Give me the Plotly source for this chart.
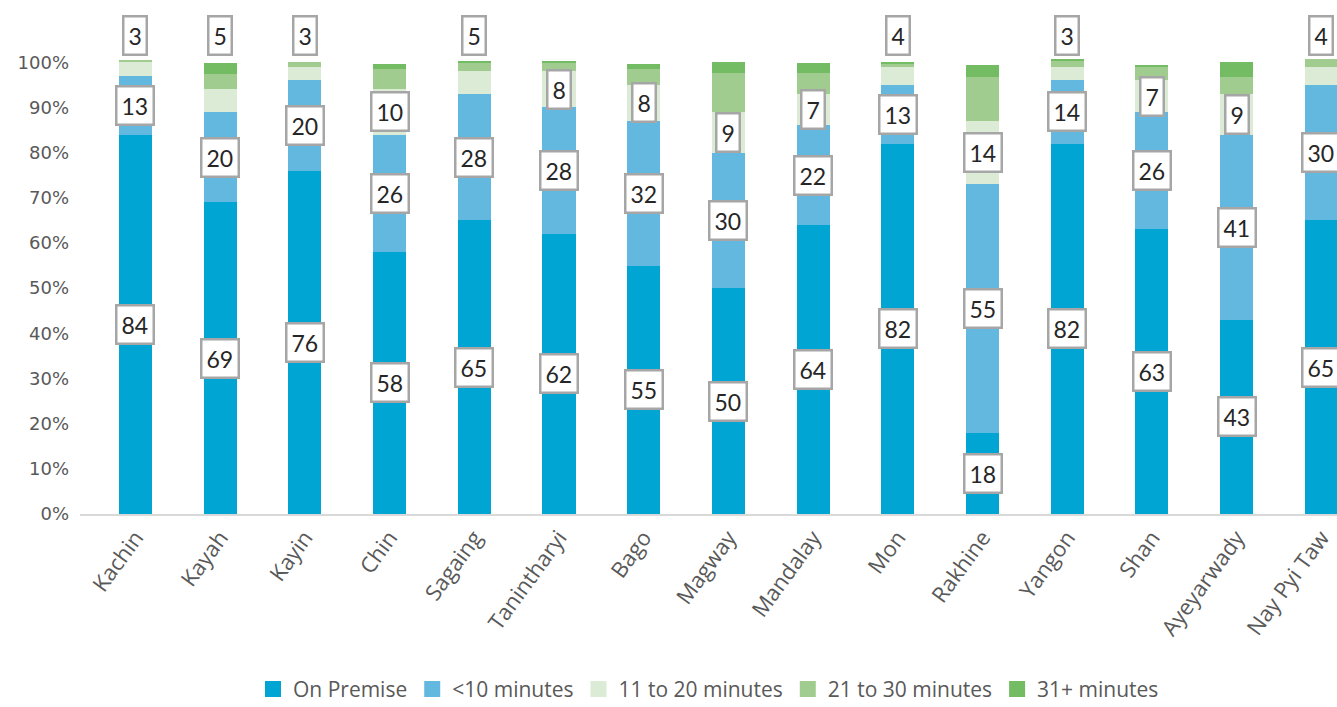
import plotly.graph_objects as go

regions = ["Kachin", "Kayah", "Kayin", "Chin", "Sagaing", "Tanintharyi", "Bago",
           "Magway", "Mandalay", "Mon", "Rakhine", "Yangon", "Shan", "Ayeyarwady", "Nay Pyi Taw"]

on_premise = [84, 69, 76, 58, 65, 62, 55, 50, 64, 82, 18, 82, 63, 43, 65]
under_10 = [13, 20, 20, 26, 28, 28, 32, 30, 22, 13, 55, 14, 26, 41, 30]
m11_20 = [3, 5, 3, 10, 5, 8, 8, 9, 7, 4, 14, 3, 7, 9, 4]
m21_30 = [0.5, 3.5, 1.0, 4.5, 1.8, 1.8, 3.5, 8.7, 4.6, 0.7, 9.8, 1.3, 2.9, 3.7, 1.7]
m31_plus = [0.0, 2.3, 0.0, 1.0, 0.5, 0.5, 1.1, 2.3, 2.3, 0.4, 2.5, 0.5, 0.5, 3.3, 0.0]

series = [
    ("On Premise", on_premise, "#00A5D3"),
    ("<10 minutes", under_10, "#63B8DF"),
    ("11 to 20 minutes", m11_20, "#DCEBD6"),
    ("21 to 30 minutes", m21_30, "#A0CD8F"),
    ("31+ minutes", m31_plus, "#74BC64"),
]

y_ticks = list(range(0, 101, 10))
y_tick_text = [f"{v}%" for v in y_ticks]

fig = go.Figure()
for name, vals, col in series:
    fig.add_trace(go.Bar(
        x=regions, y=vals, name=name,
        marker=dict(color=col, line=dict(width=0)),
        hoverinfo="skip", showlegend=False,
    ))
# legend entries with larger square symbols
for name, vals, col in series:
    fig.add_trace(go.Scatter(
        x=[None], y=[None], mode="markers", name=name,
        marker=dict(symbol="square", size=20, color=col),
        showlegend=True,
    ))

label_font = dict(family="Lato, sans-serif", size=23, color="#262626")

def add_label(xcat, ypos, text):
    fig.add_annotation(
        x=xcat, y=ypos, xref="x", yref="y", text=text, showarrow=False,
        font=label_font, bgcolor="#FFFFFF", bordercolor="#A6A6A6",
        borderwidth=2.5, borderpad=4, xanchor="center", yanchor="middle",
    )

for i, reg in enumerate(regions):
    op = on_premise[i]
    u10 = under_10[i]
    m1 = m11_20[i]
    add_label(reg, op / 2, str(op))
    add_label(reg, op + u10 / 2, str(u10))
    if m1 >= 6:
        add_label(reg, op + u10 + m1 / 2, str(m1))
    else:
        add_label(reg, 106, str(m1))

fig.update_layout(
    barmode="stack",
    bargap=0.61,
    width=1337, height=707,
    margin=dict(l=80, r=0, t=8, b=193, autoexpand=False),
    paper_bgcolor="#FFFFFF", plot_bgcolor="#FFFFFF",
    showlegend=True,
    legend=dict(
        orientation="h", x=0.5, xanchor="center",
        yref="container", y=0.025, yanchor="middle",
        font=dict(family="Open Sans, sans-serif", size=21, color="#595959"),
        traceorder="normal", itemclick=False, itemsizing="trace",
    ),
    font=dict(family="Open Sans, sans-serif", color="#595959"),
)

fig.update_xaxes(
    range=[-0.655, 14.185],
    tickangle=-54,
    tickfont=dict(family="Open Sans, sans-serif", size=22, color="#595959"),
    showline=True, linecolor="#D9D9D9", linewidth=2,
    showgrid=False, ticks="", ticklen=0,
)
fig.update_yaxes(
    range=[0, 112],
    tickvals=y_ticks, ticktext=y_tick_text,
    tickfont=dict(family="DejaVu Sans, sans-serif", size=18, color="#595959"),
    showgrid=False, zeroline=False, showline=False, ticks="",
    ticklabelstandoff=10,
)

fig.write_html(
    "out.html",
    config={"displayModeBar": False},
    post_script="document.body.style.margin='0';document.body.style.overflow='hidden';",
)
